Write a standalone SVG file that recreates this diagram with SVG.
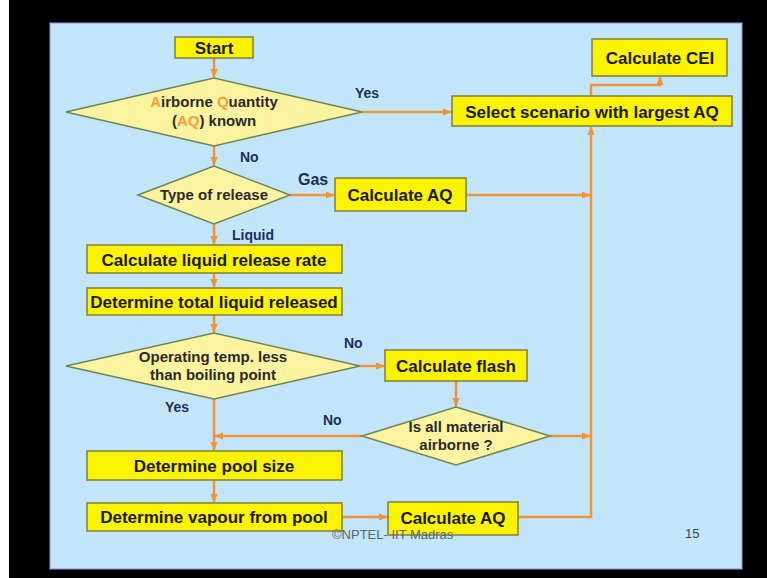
<svg xmlns="http://www.w3.org/2000/svg" width="767" height="578" viewBox="0 0 767 578">
<defs>
<marker id="ah" viewBox="0 0 10 10" refX="9" refY="5" markerWidth="9" markerHeight="9" markerUnits="userSpaceOnUse" orient="auto">
<path d="M0,1 L10,5 L0,9 Z" fill="#f0943a"/>
</marker>
<style>
.box{fill:#fbf300;stroke:#7d7f3a;stroke-width:1.5}
.dia{fill:#fbf3a0;stroke:#6e8456;stroke-width:1.5}
.t{font-family:"Liberation Sans",Arial,sans-serif;font-weight:bold;font-size:17px;fill:#1a1a1a;text-anchor:middle}
.dt{font-family:"Liberation Sans",Arial,sans-serif;font-weight:bold;font-size:15px;fill:#2a2a2a;text-anchor:middle}
.lb{font-family:"Liberation Sans",Arial,sans-serif;font-weight:bold;font-size:14px;fill:#1f2d5a}
.or{fill:#f0a035}
.c{fill:none;stroke:#f0943a;stroke-width:2.5}
.ft{font-family:"Liberation Sans",Arial,sans-serif;font-size:13px;fill:#5a6575}
</style>
</defs>
<rect x="0" y="0" width="767" height="578" fill="#ffffff"/>
<rect x="9" y="0" width="758" height="578" fill="#000000"/>
<rect x="50" y="23" width="692" height="546" fill="#c3e5fa" stroke="#8a9ad0" stroke-width="1"/>

<g id="connectors">
<path class="c" d="M214,58 V77" marker-end="url(#ah)"/>
<path class="c" d="M362,112 H451" marker-end="url(#ah)"/>
<path class="c" d="M591,96 V85 H660 V77" marker-end="url(#ah)"/>
<path class="c" d="M214,146 V165" marker-end="url(#ah)"/>
<path class="c" d="M290,195 H334" marker-end="url(#ah)"/>
<path class="c" d="M466,195 H590" marker-end="url(#ah)"/>
<path class="c" d="M214,224 V244" marker-end="url(#ah)"/>
<path class="c" d="M214,273 V287" marker-end="url(#ah)"/>
<path class="c" d="M214,315 V332" marker-end="url(#ah)"/>
<path class="c" d="M360,366 H384" marker-end="url(#ah)"/>
<path class="c" d="M456,381 V406" marker-end="url(#ah)"/>
<path class="c" d="M362,436 H215" marker-end="url(#ah)"/>
<path class="c" d="M550,436 H590" marker-end="url(#ah)"/>
<path class="c" d="M214,399 V450" marker-end="url(#ah)"/>
<path class="c" d="M214,480 V502" marker-end="url(#ah)"/>
<path class="c" d="M342,517 H387" marker-end="url(#ah)"/>
<path class="c" d="M518,517 H591 V127" marker-end="url(#ah)"/>
</g>

<g id="start"><rect class="box" x="175" y="37" width="78" height="21"/><text class="t" x="214" y="54">Start</text></g>
<g id="aq-known"><polygon class="dia" points="66,112 214,78 362,112 214,146"/>
<text class="dt" x="214" y="107"><tspan class="or">A</tspan>irborne  <tspan class="or">Q</tspan>uantity</text>
<text class="dt" x="214" y="126">(<tspan class="or">AQ</tspan>) known</text></g>
<g id="cei"><rect class="box" x="592" y="39" width="135" height="37"/><text class="t" x="660" y="64">Calculate CEI</text></g>
<g id="select"><rect class="box" x="452" y="96" width="280" height="30"/><text class="t" x="592" y="118">Select scenario with largest AQ</text></g>
<g id="type"><polygon class="dia" points="138,195 214,166 290,195 214,224"/><text class="dt" x="214" y="200">Type of release</text></g>
<g id="calc-aq-gas"><rect class="box" x="335" y="178" width="131" height="33"/><text class="t" x="400" y="201">Calculate AQ</text></g>
<g id="liquid-rate"><rect class="box" x="87" y="245" width="255" height="28"/><text class="t" x="214" y="266">Calculate liquid release rate</text></g>
<g id="total-liquid"><rect class="box" x="87" y="288" width="255" height="27"/><text class="t" x="214" y="308">Determine total liquid released</text></g>
<g id="op-temp"><polygon class="dia" points="66,366 214,333 360,366 214,399"/>
<text class="dt" x="213" y="362">Operating temp. less</text>
<text class="dt" x="213" y="380">than boiling point</text></g>
<g id="flash"><rect class="box" x="385" y="350" width="142" height="31"/><text class="t" x="456" y="372">Calculate flash</text></g>
<g id="all-airborne"><polygon class="dia" points="362,436 456,407 550,436 456,465"/>
<text class="dt" x="456" y="432">Is all material</text>
<text class="dt" x="456" y="450">airborne ?</text></g>
<g id="pool-size"><rect class="box" x="87" y="451" width="255" height="29"/><text class="t" x="214" y="472">Determine pool size</text></g>
<g id="vapour"><rect class="box" x="87" y="503" width="255" height="28"/><text class="t" x="214" y="523">Determine vapour from pool</text></g>
<g id="calc-aq-pool"><rect class="box" x="388" y="502" width="130" height="33"/><text class="t" x="453" y="524">Calculate AQ</text></g>

<g id="labels">
<text class="lb" x="355" y="98">Yes</text>
<text class="lb" x="240" y="162">No</text>
<text class="lb" x="298" y="185" style="font-size:16px">Gas</text>
<text class="lb" x="232" y="240">Liquid</text>
<text class="lb" x="344" y="348">No</text>
<text class="lb" x="165" y="412">Yes</text>
<text class="lb" x="323" y="425">No</text>
</g>
<text class="ft" x="332" y="539">©NPTEL- IIT Madras</text>
<text class="ft" x="685" y="538" style="fill:#3a4656">15</text>
</svg>
